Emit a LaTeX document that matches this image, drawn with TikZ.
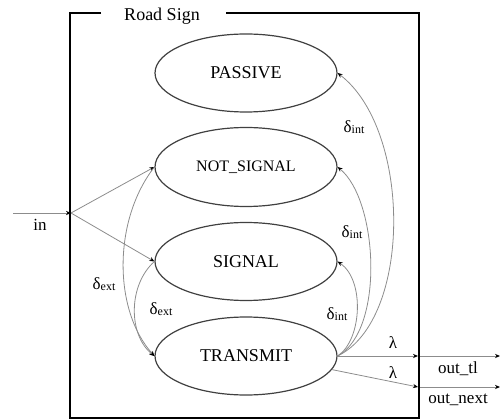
\documentclass[tikz,border=0pt]{standalone}
\usepackage{fontspec}
\setmainfont{Liberation Serif}
\usetikzlibrary{shapes.geometric,arrows.meta}
\newcommand{\dsub}[1]{{\fontsize{17pt}{17pt}\selectfont δ}\raisebox{-0.5pt}{\fontsize{12pt}{12pt}\selectfont #1}}
\begin{document}
\begin{tikzpicture}[x=1pt,y=-1pt,
  state/.style={ellipse,draw=black!75,line width=1.2pt,minimum width=182pt,minimum height=78pt,inner sep=0pt,font=\fontsize{18pt}{18pt}\selectfont},
  conn/.style={draw=black!45,line width=0.8pt,-{Stealth[length=5pt,width=4.2pt,color=black]}},
  lbl/.style={inner sep=0pt,font=\fontsize{17pt}{17pt}\selectfont},
  frame/.style={line width=1.8pt,black}]
\useasboundingbox (0,0) rectangle (500,419);
% frame
\draw[frame] (101,13) -- (70,13) -- (70,418) -- (419,418) -- (419,13) -- (226,13);
\node[lbl,font=\fontsize{18pt}{18pt}\selectfont] (title) at (162,16) {Road Sign};
% states
\node[state] (P) at (246,73) {PASSIVE};
\node[state,minimum height=79pt,font=\fontsize{16pt}{16pt}\selectfont] (N) at (246,167) {NOT\_SIGNAL};
\node[state] (S) at (246,261.5) {SIGNAL};
\node[state] (T) at (246,356) {TRANSMIT};
% ports
\coordinate (inS) at (13,213);
\coordinate (inP) at (71,213);
\coordinate (o1) at (418,356);
\coordinate (o2) at (418,387);
\coordinate (o1s) at (420,356);
\coordinate (o2s) at (420,387);
\coordinate (o1e) at (500,356);
\coordinate (o2e) at (500,387);
% input
\draw[conn] (inS) -- (inP);
\draw[conn] (inP) -- (N.west);
\draw[conn] (inP) -- (S.west);
\node[lbl] (inl) at (40,225) {in};
% delta ext
\draw[conn] (N.west) .. controls (113,220) and (113,310) .. (T.west);
\draw[conn] (S.west) .. controls (128,285) and (128,335) .. (T.west);
\node[lbl] (de1) at (104,284) {\dsub{ext}};
\node[lbl] (de2) at (161,309) {\dsub{ext}};
% delta int
\draw[conn] (T.east) .. controls (362,340) and (365,280) .. (S.east);
\draw[conn] (T.east) .. controls (385,330) and (378,200) .. (N.east);
\draw[conn] (T.east) .. controls (412,320) and (412,130) .. (P.east);
\node[lbl] (di1) at (354,127) {\dsub{int}};
\node[lbl] (di2) at (352,232) {\dsub{int}};
\node[lbl] (di3) at (337,314) {\dsub{int}};
% outputs
\draw[conn] (T.east) -- (o1);
\draw[conn] (T.-9) -- (o2);
\node[lbl] (l1) at (393,343) {λ};
\node[lbl] (l2) at (393,373) {λ};
\draw[conn] (o1s) -- (o1e);
\draw[conn] (o2s) -- (o2e);
\node[lbl] (ot) at (458,369) {out\_tl};
\node[lbl] (on) at (458,400) {out\_next};
\end{tikzpicture}
\end{document}
